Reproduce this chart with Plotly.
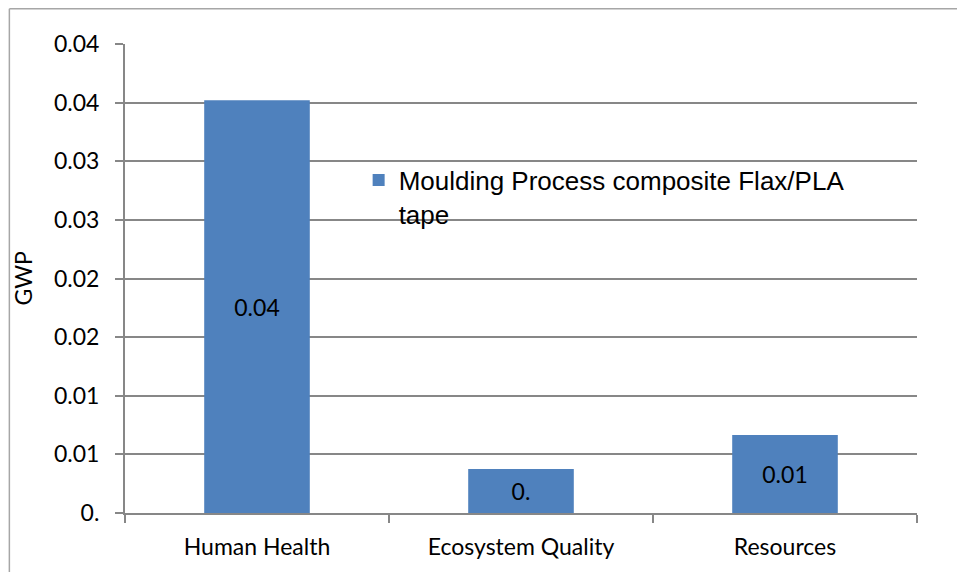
import plotly.graph_objects as go

# dados
categorias = ["Human Health", "Ecosystem Quality", "Resources"]
valores = [0.0352, 0.00375, 0.00666]
rotulos = ["0.04", "0.", "0.01"]
serie = "Moulding Process composite Flax/PLA<br>tape"

ticks_y = [0, 0.005, 0.01, 0.015, 0.02, 0.025, 0.03, 0.035, 0.04]
ticks_y_texto = ["0.", "0.01", "0.01", "0.02", "0.02", "0.03", "0.03", "0.04", "0.04"]

fonte_eixo = "Lato, Open Sans, sans-serif"
cinza = "#878787"

fig = go.Figure()

fig.add_trace(go.Bar(
    x=categorias,
    y=valores,
    name=serie,
    text=rotulos,
    textposition="inside",
    insidetextanchor="middle",
    textangle=0,
    textfont=dict(family=fonte_eixo, size=23, color="black"),
    marker=dict(color="#4F81BD", line=dict(width=0)),
    width=0.4,
    showlegend=True,
))

# a página tem margem de 8px no body, por isso a figura é 8px menor
fig.update_layout(
    width=957,
    height=564,
    margin=dict(l=117, r=48, t=36, b=59),
    plot_bgcolor="white",
    paper_bgcolor="white",
    font=dict(family=fonte_eixo, size=23, color="black"),
    showlegend=True,
    legend=dict(
        x=0.295, y=0.76, xanchor="left", yanchor="top",
        valign="top",
        font=dict(family="Liberation Sans, Arial, sans-serif", size=26, color="black"),
        bgcolor="rgba(0,0,0,0)",
        itemwidth=30,
        tracegroupgap=0,
    ),
    bargap=0.6,
)

fig.update_xaxes(
    showgrid=False,
    showline=True, linecolor=cinza, linewidth=2,
    ticks="outside", tickson="boundaries", ticklen=8, tickcolor=cinza, tickwidth=2,
    tickfont=dict(family=fonte_eixo, size=23),
    ticklabelstandoff=12,
)

fig.update_yaxes(
    range=[0, 0.04],
    tickvals=ticks_y,
    ticktext=ticks_y_texto,
    showgrid=True, gridcolor=cinza, gridwidth=1.5,
    showline=True, linecolor=cinza, linewidth=2,
    ticks="outside", ticklen=8, tickcolor=cinza, tickwidth=2,
    tickfont=dict(family=fonte_eixo, size=23),
    ticklabelstandoff=11,
    zeroline=False,
)

# título do eixo y
fig.add_annotation(
    text="GWP", xref="paper", yref="paper",
    x=-0.130, y=0.50, xanchor="center", yanchor="middle",
    showarrow=False, textangle=-90,
    font=dict(family=fonte_eixo, size=23, color="black"),
)

# moldura externa do gráfico (só aparece em cima e à esquerda)
fig.add_shape(type="line", xref="paper", yref="paper",
              x0=-0.146, y0=1.075, x1=1.2, y1=1.075,
              line=dict(color="#a6a6a6", width=1.5))
fig.add_shape(type="line", xref="paper", yref="paper",
              x0=-0.146, y0=1.075, x1=-0.146, y1=-0.2,
              line=dict(color="#a6a6a6", width=1.5))

fig.write_html("out.html")
